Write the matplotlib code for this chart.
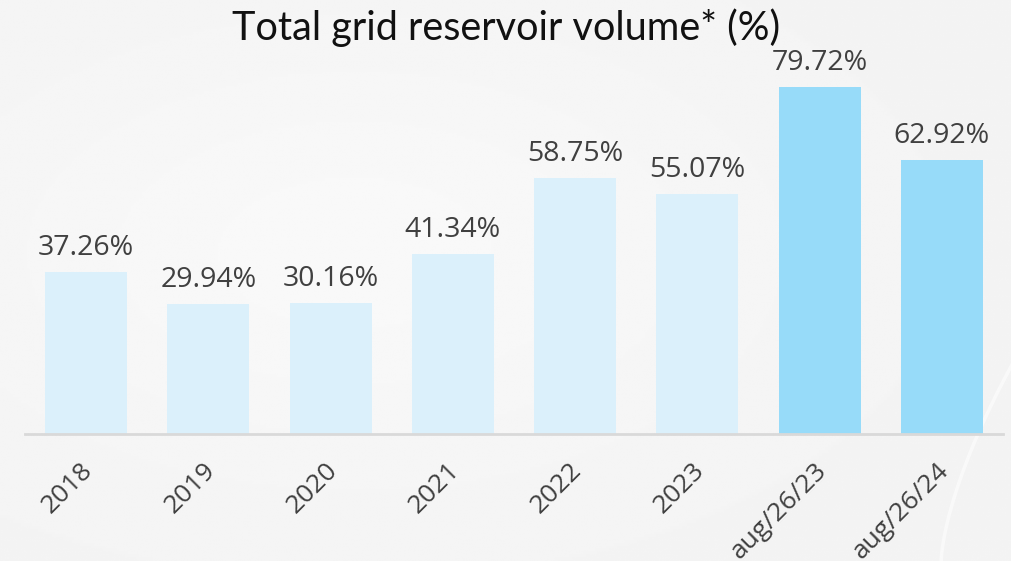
import matplotlib.pyplot as plt
import numpy as np
from matplotlib.transforms import ScaledTranslation

# reservoir volume by period
categories = ["2018", "2019", "2020", "2021", "2022", "2023", "aug/26/23", "aug/26/24"]
volumes = [37.26, 29.94, 30.16, 41.34, 58.75, 55.07, 79.72, 62.92]
highlight = [False, False, False, False, False, False, True, True]

pale_blue = "#dbf0fb"
bright_blue = "#97dbf9"
text_grey = "#404040"

fig = plt.figure(figsize=(10.12, 5.61), dpi=100)
fig.patch.set_facecolor("#f4f4f4")

# soft background shading
bg = fig.add_axes([0, 0, 1, 1], zorder=-1)
yy, xx = np.mgrid[0:1:200j, 0:1:360j]
shade = 0.955 + 0.02 * np.exp(-((xx - 0.35) ** 2 + (yy - 0.45) ** 2) / 0.15)
bg.imshow(shade, cmap="gray", vmin=0, vmax=1, extent=[0, 1, 0, 1], aspect="auto")
t = np.linspace(0, 1, 100)
bg.plot(0.93 + 0.07 * t ** 1.5, 0.0 + 0.35 * t, color="white", lw=2.5, alpha=0.55)
bg.plot(1.18 - 0.06 * t, 0.62 + 0.35 * t, color="white", lw=2, alpha=0.4)
bg.set_xlim(0, 1)
bg.set_ylim(0, 1)
bg.axis("off")

ax = fig.add_axes([25 / 1012, 1 - 434 / 561, 978 / 1012, 392 / 561])
ax.set_facecolor("none")

x = np.arange(len(categories))
colors = [bright_blue if h else pale_blue for h in highlight]
bars = ax.bar(x, volumes, width=0.67, color=colors, zorder=2)

for rect, v in zip(bars, volumes):
    ax.annotate(f"{v:.2f}%", (rect.get_x() + rect.get_width() / 2, v),
                xytext=(0, 7), textcoords="offset points",
                ha="center", va="bottom", fontsize=20.5,
                family="Open Sans", color=text_grey)

ax.set_xlim(-0.5, len(categories) - 0.5)
ax.set_ylim(0, 90)
ax.set_yticks([])
ax.set_xticks(x)
ax.set_xticklabels(categories, rotation=45, ha="right", rotation_mode="anchor",
                   fontsize=19, family="Open Sans", color=text_grey)
ax.tick_params(axis="x", length=0, pad=17)
# nudge the slanted labels a little to the left
shift = ScaledTranslation(-4 / 72, 0, fig.dpi_scale_trans)
for lbl in ax.get_xticklabels():
    lbl.set_transform(lbl.get_transform() + shift)
for side in ["top", "right", "left"]:
    ax.spines[side].set_visible(False)
ax.spines["bottom"].set_color("#d9d9d9")
ax.spines["bottom"].set_linewidth(2)

fig.text(0.5, 1 - 28 / 561, "Total grid reservoir volume* (%)", ha="center",
         va="center", fontsize=28.5, family="Lato", color="#111111")

fig.savefig("out.png", dpi=100, facecolor=fig.get_facecolor())
